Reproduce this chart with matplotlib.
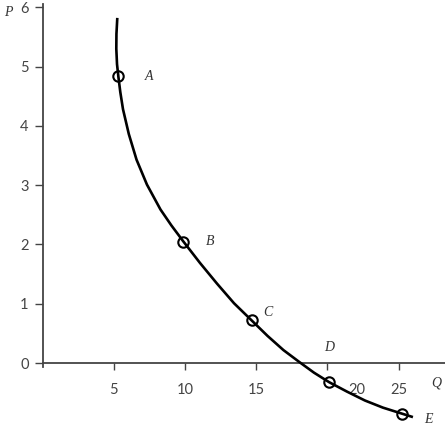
import matplotlib
matplotlib.use("Agg")
import matplotlib.pyplot as plt
import matplotlib.transforms as mtransforms

# curve (Q, P)
curve_q = [5.25, 5.19, 5.18, 5.23, 5.32, 5.46, 5.65, 6.06, 6.60, 7.33, 8.28, 9.05,
           9.89, 11.05, 12.25, 13.44, 14.68, 15.79, 16.91, 18.02, 19.05, 20.11,
           21.37, 22.63, 23.89, 25.21, 26.0]
curve_p = [5.82, 5.55, 5.30, 5.04, 4.84, 4.57, 4.28, 3.86, 3.43, 3.01, 2.59, 2.32,
           2.05, 1.69, 1.34, 1.01, 0.72, 0.46, 0.22, 0.02, -0.16, -0.32,
           -0.48, -0.63, -0.75, -0.85, -0.91]

# labelled points
point_names = ["A", "B", "C", "D", "E"]
point_q = [5.32, 9.89, 14.68, 20.11, 25.21]
point_p = [4.84, 2.05, 0.72, -0.32, -0.85]

x_ticks = [5, 10, 15, 20, 25]
y_ticks = [0, 1, 2, 3, 4, 5, 6]

fig = plt.figure(figsize=(4.45, 4.25), dpi=100)
ax = fig.add_axes([42.5 / 445, 0.006, (445 - 42.5) / 445, 0.984])

ax.plot(curve_q, curve_p, color="black", lw=1.9, solid_joinstyle="round",
        solid_capstyle="butt", zorder=3)
ax.plot(point_q, point_p, "o", ms=7.5, mfc="none", mec="black", mew=1.5, zorder=4)

# point labels
offsets = {"A": (22, 0), "B": (19, 0), "C": (12, 6), "D": (0, 25), "E": (19, -4)}
for name, q, p in zip(point_names, point_q, point_p):
    ax.annotate(name, (q, p), xytext=offsets[name], textcoords="offset points",
                ha="center", va="center", fontsize=10, style="italic",
                family="Liberation Serif", color="#333333")

ax.set_xlim(0, 28.25)
ax.set_ylim(-1.0, 6.05)

for s in ["top", "right"]:
    ax.spines[s].set_visible(False)
ax.spines["bottom"].set_position(("data", 0))
ax.spines["left"].set_bounds(-0.07, 6.05)
for s in ["left", "bottom"]:
    ax.spines[s].set_color("#444444")
    ax.spines[s].set_linewidth(1.3)

ax.set_xticks(x_ticks)
ax.set_xticklabels([str(t) for t in x_ticks])
ax.set_yticks(y_ticks)
ax.set_yticklabels([str(t) for t in y_ticks])
ax.tick_params(axis="x", direction="out", length=5, width=1, color="#444444",
               pad=9, labelsize=10.5, labelcolor="#444444")
ax.tick_params(axis="y", direction="out", length=6, width=1, color="#444444",
               pad=4, labelsize=10.5, labelcolor="#444444")
for lab in ax.get_xticklabels() + ax.get_yticklabels():
    lab.set_family("Lato")

# the "20" label sits to the right of its tick in the original
shift = mtransforms.ScaledTranslation(29 / 100, 0, fig.dpi_scale_trans)
for lab in ax.get_xticklabels():
    if lab.get_text() == "20":
        lab.set_transform(lab.get_transform() + shift)

# axis names
fig.text(8 / 445, 1 - 13 / 425, "P", fontsize=10, style="italic",
         family="Liberation Serif", color="#333333", ha="center", va="center")
fig.text(436 / 445, 1 - 383 / 425, "Q", fontsize=10, style="italic",
         family="Liberation Serif", color="#333333", ha="center", va="center")

fig.savefig("out.png", dpi=100)
